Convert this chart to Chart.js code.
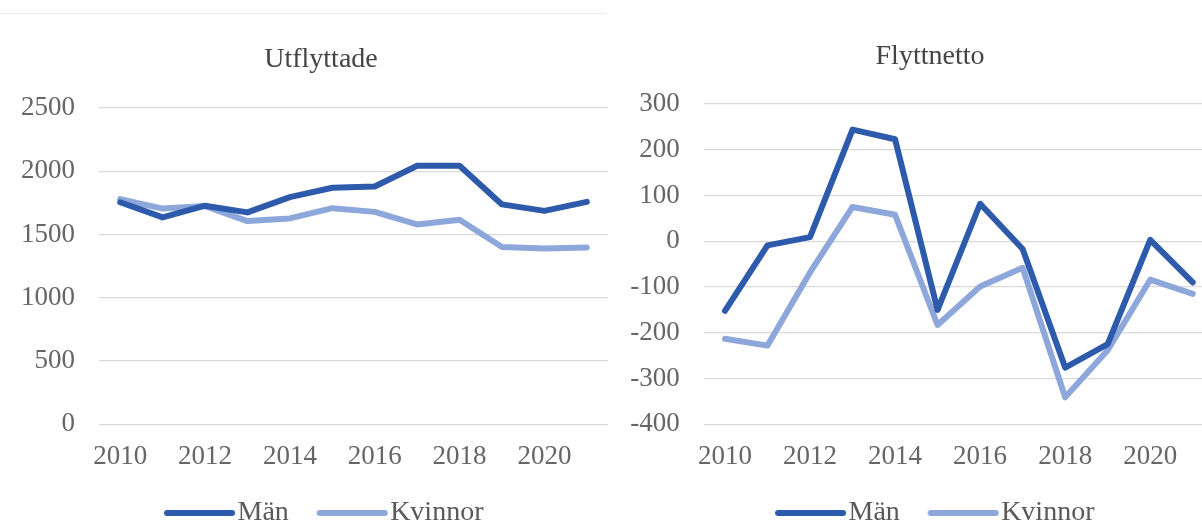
<!DOCTYPE html>
<html>
<head>
<meta charset="utf-8">
<script src="https://cdn.jsdelivr.net/npm/chart.js@4.4.0/dist/chart.umd.min.js"></script>
<style>
html,body{margin:0;padding:0;background:#fff;overflow:hidden;width:1202px;height:521px;}
#wrap{position:relative;width:1202px;height:521px;overflow:hidden;background:#fff;}
#c1{position:absolute;left:0;top:0;}
#c2{position:absolute;left:606px;top:0;}
#topline{position:absolute;left:0;top:13px;width:606px;height:0;border-top:1px solid #ebebeb;}
</style>
</head>
<body>
<div id="wrap">
<div id="topline"></div>
<canvas id="c1" width="650" height="537"></canvas>
<canvas id="c2" width="660" height="537"></canvas>
</div>
<script>
// ---- data ----
const years = ['2010','2011','2012','2013','2014','2015','2016','2017','2018','2019','2020','2021'];
const seriesNames = ['Män', 'Kvinnor'];
const titleLeft = 'Utflyttade';
const titleRight = 'Flyttnetto';
const utflyttadeMan = [1755, 1635, 1728, 1675, 1795, 1870, 1880, 2043, 2043, 1738, 1687, 1758];
const utflyttadeKvinnor = [1780, 1705, 1725, 1606, 1627, 1708, 1679, 1580, 1617, 1402, 1390, 1398];
const nettoMan = [-152, -9, 9, 244, 223, -150, 82, -17, -276, -225, 3, -90];
const nettoKvinnor = [-213, -228, -68, 75, 58, -183, -99, -58, -341, -238, -84, -115];
const leftTicks = {min: 0, max: 2500, step: 500};
const rightTicks = {min: -400, max: 300, step: 100};

// ---- styles ----
const colMan = '#2E5AAC';
const colKv = '#8EA7DB';
const FONT = "'Liberation Serif', 'Times New Roman', serif";

function legendLine(color) {
  const c = document.createElement('canvas');
  c.width = 84; c.height = 10;
  const g = c.getContext('2d');
  g.strokeStyle = color; g.lineWidth = 6; g.lineCap = 'round';
  g.beginPath(); g.moveTo(15, 5); g.lineTo(80, 5); g.stroke();
  return c;
}

function shiftPlugin(tdx, ldx) {
  return {
    id: 'shiftBlocks',
    afterLayout(chart) {
      if (chart.titleBlock) { chart.titleBlock.left += tdx; chart.titleBlock.right += tdx; }
      if (chart.legend) { chart.legend.left += ldx; chart.legend.right += ldx; }
    }
  };
}

function makeChart(id, title, a, b, tk, pad, yw, titlePad, tdx, ldx) {
  new Chart(document.getElementById(id), {
    type: 'line',
    data: {
      labels: years,
      datasets: [
        {label: seriesNames[0], data: a, borderColor: colMan, backgroundColor: colMan,
         borderWidth: 6, pointRadius: 0, pointStyle: legendLine(colMan), tension: 0,
         borderJoinStyle: 'round', borderCapStyle: 'round', fill: false},
        {label: seriesNames[1], data: b, borderColor: colKv, backgroundColor: colKv,
         borderWidth: 6, pointRadius: 0, pointStyle: legendLine(colKv), tension: 0,
         borderJoinStyle: 'round', borderCapStyle: 'round', fill: false}
      ]
    },
    plugins: [shiftPlugin(tdx, ldx)],
    options: {
      responsive: false,
      animation: false,
      events: [],
      layout: {padding: {left: pad.left, right: pad.right, top: 0, bottom: 0}},
      plugins: {
        tooltip: {enabled: false},
        title: {
          display: true, text: title, color: '#444',
          font: {family: FONT, size: 28, weight: 'normal', lineHeight: 1.2},
          padding: titlePad
        },
        legend: {
          display: true, position: 'bottom',
          labels: {
            usePointStyle: true, pointStyleWidth: 59, padding: 28.3,
            color: '#595959',
            font: {family: FONT, size: 28, lineHeight: 1.2}
          }
        }
      },
      scales: {
        x: {
          type: 'category', offset: true,
          grid: {display: false, drawTicks: false},
          border: {display: false},
          ticks: {
            autoSkip: false, maxRotation: 0, padding: 16.8, color: '#666',
            font: {family: FONT, size: 27, lineHeight: 1.2},
            callback: (v, i) => (i % 2 === 0 ? years[i] : '')
          },
          afterFit: s => { s.height = 46.4; }
        },
        y: {
          min: tk.min, max: tk.max,
          grid: {color: '#d9d9d9', lineWidth: 1.3, drawTicks: false},
          border: {display: false},
          ticks: {
            stepSize: tk.step, padding: 24, color: '#666',
            font: {family: FONT, size: 27, lineHeight: 1.2},
            callback: v => String(v)
          },
          afterFit: s => { s.width = yw; }
        }
      }
    }
  });
}

makeChart('c1', titleLeft, utflyttadeMan, utflyttadeKvinnor, leftTicks,
  {left: 20, right: 42}, 79, {top: 43, bottom: 31.4}, 7, 10);
makeChart('c2', titleRight, nettoMan, nettoKvinnor, rightTicks,
  {left: 20, right: 52}, 77.7, {top: 40, bottom: 30.4}, 10, 15);
</script>
</body>
</html>
